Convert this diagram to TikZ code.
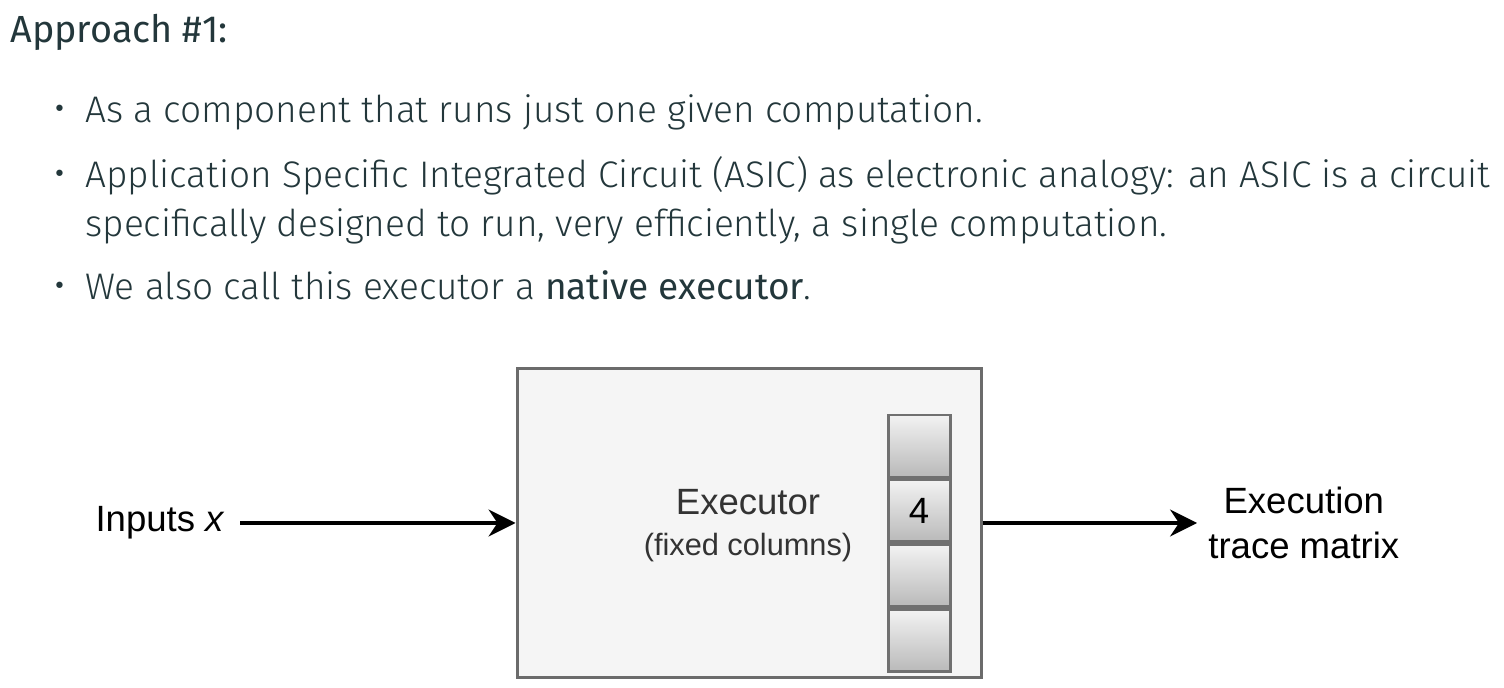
\documentclass[tikz,border=0pt]{standalone}
\usepackage{fontspec}
\setmainfont{Fira Sans Light}[BoldFont={Fira Sans}]
\newfontfamily\titlefont{Fira Sans}
\newfontfamily\arialfont{Liberation Sans}
\usetikzlibrary{arrows.meta, positioning}
\definecolor{slidetext}{HTML}{23373B}
\definecolor{boxfill}{HTML}{F5F5F5}
\definecolor{boxline}{HTML}{6B6B6B}
\definecolor{cellline}{HTML}{707070}

\begin{document}
\begin{tikzpicture}[
    slide/.style={font=\fontsize{21.05}{27.9}\selectfont, text=slidetext, inner sep=0pt, align=left},
    diag/.style={font=\arialfont\fontsize{20.8}{25.5}\selectfont, align=center},
    cellbox/.style={draw=cellline, line width=1.7pt, top color=gray!10, bottom color=gray!55,
                    minimum width=1.24cm, minimum height=1.24cm, inner sep=0pt},
    flow/.style={-{Stealth[length=0.54cm, width=0.54cm, inset=0.18cm]}, line width=1.8pt}
  ]
  \useasboundingbox (0,0) rectangle (30.08,13.74);

  % Slide text
  \node[slide, font=\titlefont\fontsize{21.5}{28}\selectfont, anchor=base west] (title) at (0.2, 12.88) {Approach \#1:};
  \node[slide, anchor=base west] (item1) at (1.7, 11.28) {As a component that runs just one given computation.};
  \node[slide, anchor=base west] (item2) at (1.7, 9.0)
    {Application Specific Integrated Circuit (ASIC) as electronic analogy: an ASIC is a circuit\\
     specifically designed to run, very efficiently, a single computation.};
  \node[slide, anchor=base west] (item3) at (1.7, 7.74) {We also call this executor a \textbf{native executor}.};
  \foreach \y in {11.28, 9.98, 7.74}
    \node[slide, font=\titlefont\fontsize{26}{28}\selectfont, anchor=base east] at (1.32, \y) {·};

  % Executor
  \node[draw=boxline, line width=1.7pt, fill=boxfill, minimum width=9.28cm, minimum height=6.18cm] (exec) at (14.98, 3.28) {};
  \node[diag, text=black!80] (execlabel) at (14.96, 3.23)
    {Executor\\[-2pt] {\fontsize{17.5}{22}\selectfont (fixed columns)}};

  % Fixed columns
  \node[cellbox] (c1) at (18.38, 4.82) {};
  \node[cellbox, below=0pt of c1, diag] (c2) {4};
  \node[cellbox, below=0pt of c2] (c3) {};
  \node[cellbox, below=0pt of c3] (c4) {};

  % Inputs and output
  \node[diag, anchor=east, inner sep=0.3cm] (inp) at (4.8, 3.28) {Inputs \textit{x}};
  \node[diag, anchor=west, inner sep=0.22cm] (trace) at (23.94, 3.28) {Execution\\trace matrix};
  \draw[flow] (inp.east) -- (exec.west);
  \draw[flow] (exec.east) -- (trace.west);
\end{tikzpicture}
\end{document}
